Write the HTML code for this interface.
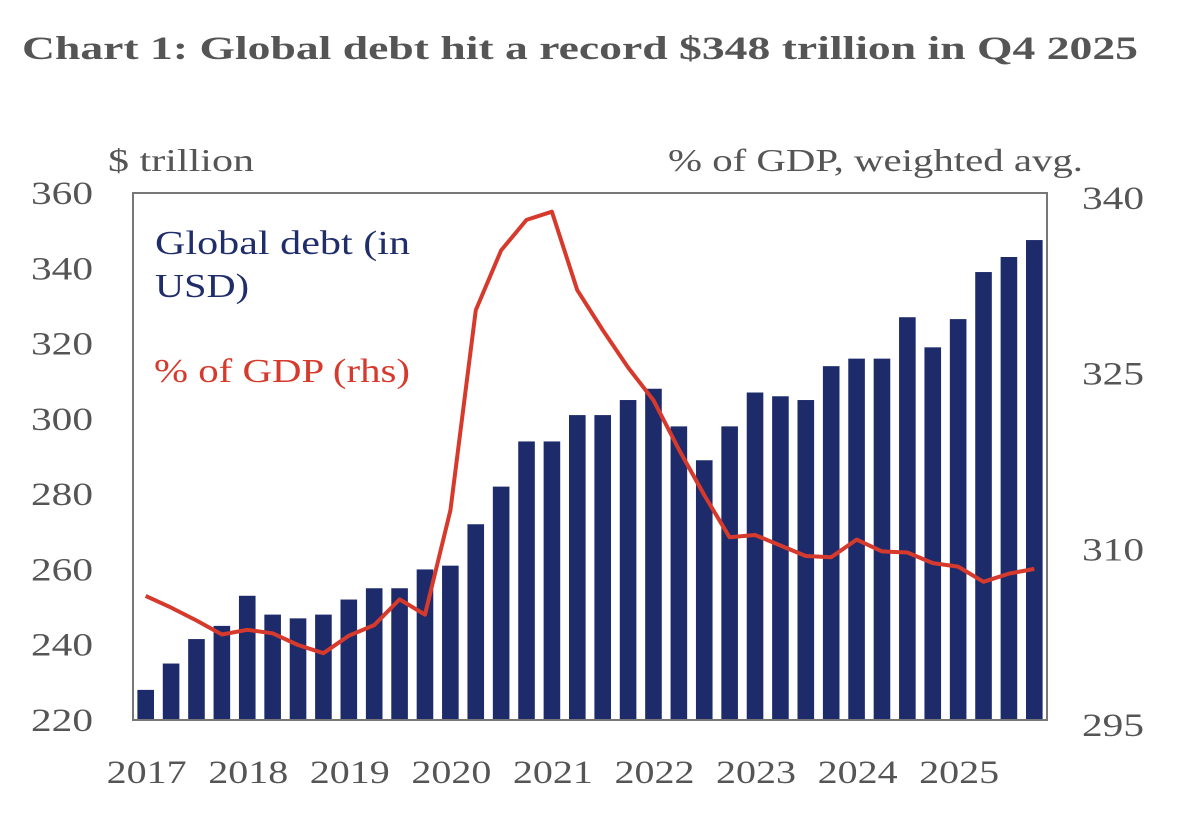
<!DOCTYPE html>
<html><head><meta charset="utf-8"><style>
body{margin:0;background:#fff;width:1204px;height:822px;overflow:hidden}
text{font-family:"Liberation Serif",serif}
</style></head><body>
<svg width="1204" height="822" viewBox="0 0 1204 822">
<text x="22" y="59" font-size="33" font-weight="bold" fill="#555" textLength="1116" lengthAdjust="spacingAndGlyphs">Chart 1: Global debt hit a record $348 trillion in Q4 2025</text>
<text x="108" y="171" font-size="32" fill="#555" textLength="146" lengthAdjust="spacingAndGlyphs">$ trillion</text>
<text x="668" y="171" font-size="32" fill="#555" textLength="415" lengthAdjust="spacingAndGlyphs">% of GDP, weighted avg.</text>
<g id="bars"></g>
<g id="frame" stroke="#777" stroke-width="2" fill="none">
<rect x="133" y="193" width="914" height="527"/>
</g>
<g id="ticks"></g>
<path id="line" fill="none" stroke="#d63a2c" stroke-width="4" stroke-linejoin="round"/>
<text x="155" y="254" font-size="34" fill="#1f2d6b" textLength="255" lengthAdjust="spacingAndGlyphs">Global debt (in</text>
<text x="155" y="297" font-size="34" fill="#1f2d6b" textLength="94" lengthAdjust="spacingAndGlyphs">USD)</text>
<text x="154" y="382" font-size="34" fill="#d63a2c" textLength="256" lengthAdjust="spacingAndGlyphs">% of GDP (rhs)</text>
</svg>
<script>
const years=["2017","2018","2019","2020","2021","2022","2023","2024","2025"];
const debt=[228,235,241.5,245,253,248,247,248,252,255,255,260,261,272,282,294,294,301,301,305,308,298,289,298,307,306,305,314,316,316,327,319,326.5,339,343,347.5];
const gdp=[305.6,304.6,303.5,302.3,302.7,302.4,301.4,300.7,302.2,303.1,305.3,304.0,312.9,330,335.1,337.7,338.4,331.7,328.3,325.1,322.3,318.1,314.2,310.6,310.8,309.9,309,308.9,310.4,309.4,309.3,308.4,308.1,306.8,307.5,307.9];
const leftTicks=[220,240,260,280,300,320,340,360];
const rightTicks=[295,310,325,340];
const NS="http://www.w3.org/2000/svg";
const yTop=193,yBot=720,x0=133,x1=1047;
const yL=v=>yBot-(v-220)/(360-220)*(yBot-yTop);
const yR=v=>yBot-(v-295)/(340-295)*(yBot-yTop);
const n=debt.length,pitch=(x1-x0)/n;
const xc=i=>x0+pitch*(i+0.5);
const bars=document.getElementById('bars');
debt.forEach((v,i)=>{const r=document.createElementNS(NS,'rect');
r.setAttribute('x',xc(i)-8.3);r.setAttribute('width',16.6);
r.setAttribute('y',yL(v));r.setAttribute('height',yBot-yL(v));r.setAttribute('fill','#1d2b6b');


bars.appendChild(r);});
document.getElementById('line').setAttribute('d',gdp.map((v,i)=>(i?'L':'M')+xc(i).toFixed(1)+' '+yR(v).toFixed(1)).join(' '));
const tk=document.getElementById('ticks');
function txt(x,y,s,len,name){const t=document.createElementNS(NS,'text');
t.setAttribute('x',x-len/2);t.setAttribute('y',y);t.setAttribute('font-size','33');t.setAttribute('fill','#555');
t.setAttribute('textLength',len);t.setAttribute('lengthAdjust','spacingAndGlyphs');t.textContent=s;


tk.appendChild(t);}
leftTicks.forEach(v=>txt(62,yL(v)+11,String(v),62,'left-tick-label'));
rightTicks.forEach(v=>txt(1113,yR(v)+16,String(v),62,'right-tick-label'));
years.forEach((s,i)=>txt(xc(i*4)+1,783,s,80,'x-tick-label'));
</script>
</body></html>
